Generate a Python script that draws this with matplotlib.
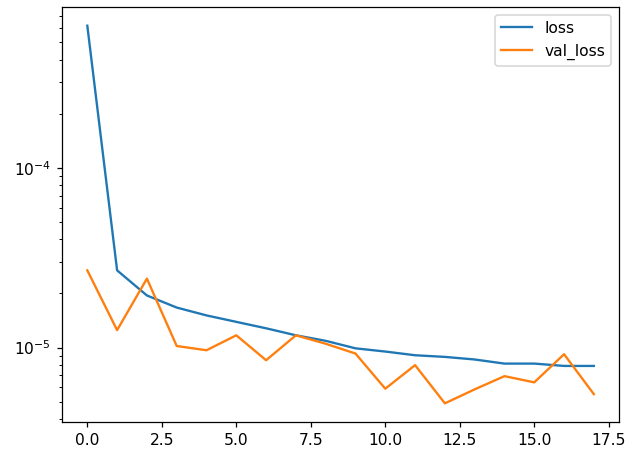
import matplotlib
matplotlib.use("Agg")
import matplotlib.pyplot as plt

epochs = list(range(18))
loss = [6.2e-4, 2.69e-5, 1.95e-5, 1.67e-5, 1.51e-5, 1.39e-5, 1.28e-5, 1.17e-5,
        1.09e-5, 9.9e-6, 9.5e-6, 9.06e-6, 8.87e-6, 8.58e-6, 8.14e-6, 8.14e-6,
        7.9e-6, 7.9e-6]
val_loss = [2.69e-5, 1.25e-5, 2.42e-5, 1.02e-5, 9.66e-6, 1.17e-5, 8.5e-6, 1.17e-5,
            1.05e-5, 9.26e-6, 5.9e-6, 7.98e-6, 4.89e-6, 5.85e-6, 6.93e-6, 6.4e-6,
            9.18e-6, 5.5e-6]

# rendered a bit larger than default, same as the original screenshot
dpi = 112
fig, ax = plt.subplots(figsize=(639 / dpi, 454 / dpi), dpi=dpi)
fig.subplots_adjust(left=0.097, right=0.969, top=0.985, bottom=0.070)

ax.plot(epochs, loss, label="loss")
ax.plot(epochs, val_loss, label="val_loss")
ax.set_yscale("log")
ax.legend(loc="upper right")

plt.savefig("out.png", dpi=dpi)
